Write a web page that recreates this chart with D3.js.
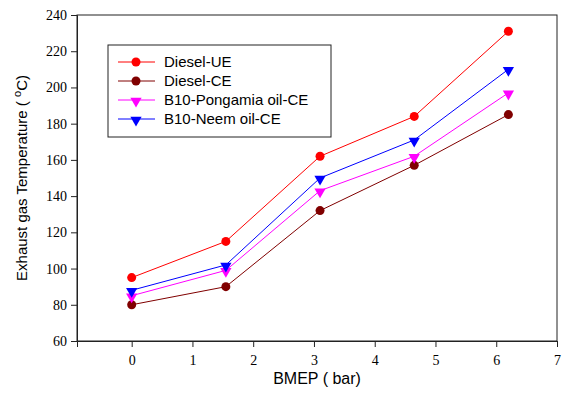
<!DOCTYPE html>
<html>
<head>
<meta charset="utf-8">
<script src="https://cdn.jsdelivr.net/npm/d3@7"></script>
<style>
  body { margin: 0; background: #fff; }
  svg { display: block; }
</style>
</head>
<body>
<div id="chart"></div>
<script>
// BMEP values (bar)
const bmep = [0, 1.55, 3.1, 4.65, 6.2];

const dieselUE = [95, 115, 162, 184, 231];
const dieselCE = [80, 90, 132, 157, 185];
const pongamiaCE = [85, 99, 143, 162, 197];
const neemCE = [88, 102, 150, 171, 210];

const seriesNames = ['Diesel-UE', 'Diesel-CE', 'B10-Pongamia oil-CE', 'B10-Neem oil-CE'];
const seriesColors = ['#ff0000', '#800000', '#ff00ff', '#0000ff'];
const seriesMarkers = ['circle', 'circle', 'triangle', 'triangle'];

const xTicks = [0, 1, 2, 3, 4, 5, 6, 7];
const yTicks = [60, 80, 100, 120, 140, 160, 180, 200, 220, 240];

const width = 564;
const height = 399;
const margin = { top: 15, right: 7, bottom: 58, left: 77 };

const serif = '"Liberation Serif", "Times New Roman", serif';
const sans = '"Liberation Sans", Arial, sans-serif';

const svg = d3.select('#chart')
  .append('svg')
  .attr('width', width)
  .attr('height', height);

const x = d3.scaleLinear()
  .domain([-0.9, 7])
  .range([margin.left, width - margin.right]);

const y = d3.scaleLinear()
  .domain([60, 240])
  .range([height - margin.bottom, margin.top]);

// frame
svg.append('rect')
  .attr('x', margin.left)
  .attr('y', margin.top)
  .attr('width', width - margin.left - margin.right)
  .attr('height', height - margin.top - margin.bottom)
  .attr('fill', 'none')
  .attr('stroke', '#222')
  .attr('stroke-width', 1);

const xAxis = svg.append('g')
  .attr('transform', `translate(0,${height - margin.bottom})`)
  .call(d3.axisBottom(x).tickValues(xTicks).tickSize(6).tickPadding(8).tickFormat(d3.format('d')));

const yAxis = svg.append('g')
  .attr('transform', `translate(${margin.left},0)`)
  .call(d3.axisLeft(y).tickValues(yTicks).tickSize(6).tickPadding(4));

[xAxis, yAxis].forEach(g => {
  g.attr('font-family', null).attr('font-size', null);
  g.selectAll('text')
    .style('font-family', serif)
    .style('font-size', '14px')
    .attr('fill', '#000');
  g.selectAll('line').attr('stroke', '#222');
  g.select('.domain').attr('stroke', '#222');
});

// axis titles
svg.append('text')
  .attr('x', 317)
  .attr('y', 384)
  .attr('text-anchor', 'middle')
  .style('font-family', sans)
  .style('font-size', '16px')
  .text('BMEP ( bar)');

const yTitle = svg.append('text')
  .attr('transform', `translate(27,${y(150) + 0}) rotate(-90)`)
  .attr('text-anchor', 'middle')
  .style('font-family', sans)
  .style('font-size', '15px');
yTitle.append('tspan').text('Exhaust gas Temperature ( ');
yTitle.append('tspan').attr('dy', -6).style('font-size', '11px').text('o');
yTitle.append('tspan').attr('dy', 6).text('C)');

const allSeries = [dieselUE, dieselCE, pongamiaCE, neemCE];

const line = d3.line()
  .x((d, i) => x(bmep[i]))
  .y(d => y(d));

const triangle = d3.symbol().type(d3.symbolTriangle).size(55);

function drawMarker(g, type, color) {
  if (type === 'circle') {
    g.append('circle').attr('r', 4.5).attr('fill', color);
  } else {
    g.append('path').attr('d', triangle()).attr('transform', 'rotate(180) translate(0,-1)').attr('fill', color);
  }
}

allSeries.forEach((vals, s) => {
  svg.append('path')
    .datum(vals)
    .attr('d', line)
    .attr('fill', 'none')
    .attr('stroke', seriesColors[s])
    .attr('stroke-width', 1);

  vals.forEach((v, i) => {
    const g = svg.append('g').attr('transform', `translate(${x(bmep[i])},${y(v)})`);
    drawMarker(g, seriesMarkers[s], seriesColors[s]);
  });
});

// legend
svg.append('rect')
  .attr('x', 108)
  .attr('y', 45)
  .attr('width', 223)
  .attr('height', 92)
  .attr('fill', '#fff')
  .attr('stroke', '#222')
  .attr('stroke-width', 1);

seriesNames.forEach((name, i) => {
  const ly = 62 + i * 19;
  const g = svg.append('g');
  g.append('line')
    .attr('x1', 118).attr('x2', 155)
    .attr('y1', ly).attr('y2', ly)
    .attr('stroke', seriesColors[i])
    .attr('stroke-width', 1);
  const m = g.append('g').attr('transform', `translate(136,${ly})`);
  drawMarker(m, seriesMarkers[i], seriesColors[i]);
  g.append('text')
    .attr('x', 164)
    .attr('y', ly + 5)
    .style('font-family', sans)
    .style('font-size', '15px')
    .text(name);
});
</script>
</body>
</html>
